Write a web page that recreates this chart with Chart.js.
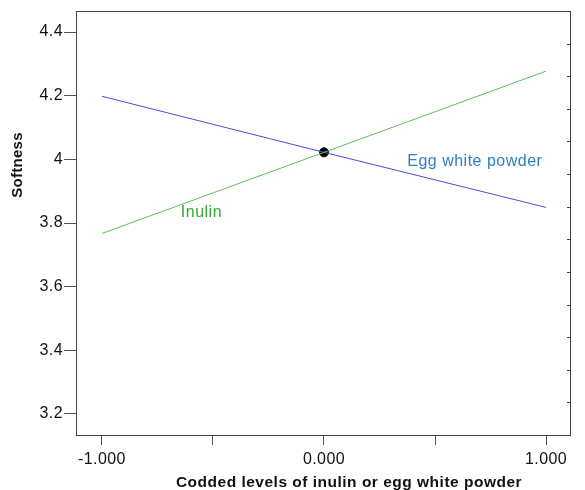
<!DOCTYPE html>
<html>
<head>
<meta charset="utf-8">
<script src="https://cdn.jsdelivr.net/npm/chart.js@4/dist/chart.umd.min.js"></script>
<style>
html,body{margin:0;padding:0;background:#fff;}
#wrap{width:585px;height:490px;position:relative;}
</style>
</head>
<body>
<div id="wrap"><canvas id="c" width="585" height="490"></canvas></div>
<script>
// ---- data ----
const xLevels = [-1, 0, 1];
const inulin = [3.767, 4.022, 4.277];
const eggWhite = [4.198, 4.022, 3.849];
const centerPoint = [{x: 0, y: 4.022}];
const xTickValues = [-1, -0.5, 0, 0.5, 1];
const xTickLabels = ['-1.000', '', '0.000', '', '1.000'];
const yTickValues = [3.2, 3.4, 3.6, 3.8, 4.0, 4.2, 4.4];
const yTickLabels = ['3.2', '3.4', '3.6', '3.8', '4', '4.2', '4.4'];
const seriesNames = ['Inulin', 'Egg white powder'];

const FONT = '"Liberation Sans", Arial, sans-serif';

const spacing = {
  id: 'spacing',
  beforeDraw(chart) { chart.ctx.letterSpacing = '0.4px'; }
};

const decor = {
  id: 'decor',
  afterDraw(chart) {
    const ctx = chart.ctx;
    const a = chart.chartArea;
    const xs = chart.scales.x, ys = chart.scales.y;
    ctx.save();
    ctx.letterSpacing = '0.5px';
    // frame
    ctx.strokeStyle = '#444';
    ctx.lineWidth = 1;
    ctx.strokeRect(Math.round(a.left) + 0.5, Math.round(a.top) + 0.5,
                   Math.round(a.right - a.left), Math.round(a.bottom - a.top));
    // inward ticks on right border
    const n = 13;
    for (let i = 1; i < n; i++) {
      const y = Math.round(a.top + (a.bottom - a.top) * i / n) + 0.5;
      ctx.beginPath();
      ctx.moveTo(a.right, y);
      ctx.lineTo(a.right - 3, y);
      ctx.stroke();
    }
    // series labels
    ctx.font = '16px ' + FONT;
    ctx.textBaseline = 'middle';
    ctx.textAlign = 'left';
    ctx.fillStyle = '#2f7fc1';
    ctx.fillText(seriesNames[1], xs.getPixelForValue(0.375), ys.getPixelForValue(3.994));
    ctx.fillStyle = '#33aa33';
    ctx.fillText(seriesNames[0], xs.getPixelForValue(-0.645), ys.getPixelForValue(3.833));
    // axis titles
    ctx.fillStyle = '#111';
    ctx.font = 'bold 15.5px ' + FONT;
    ctx.textAlign = 'center';
    ctx.fillText('Codded levels of inulin or egg white powder', 349, 483);
    ctx.save();
    ctx.translate(18, 165);
    ctx.rotate(-Math.PI / 2);
    ctx.font = 'bold 15px ' + FONT;
    ctx.letterSpacing = '0.3px';
    ctx.fillText('Softness', 0, 0);
    ctx.restore();
    ctx.restore();
  }
};

new Chart(document.getElementById('c'), {
  type: 'line',
  data: {
    datasets: [
      {
        label: seriesNames[0],
        data: xLevels.map((x, i) => ({x, y: inulin[i]})),
        borderColor: '#5cbf5c',
        borderWidth: 1,
        pointRadius: 0,
        tension: 0
      },
      {
        label: seriesNames[1],
        data: xLevels.map((x, i) => ({x, y: eggWhite[i]})),
        borderColor: '#4b4bdc',
        borderWidth: 1,
        pointRadius: 0,
        tension: 0
      },
      {
        label: 'center',
        data: centerPoint,
        showLine: false,
        pointRadius: 4.5,
        pointBackgroundColor: '#000',
        pointBorderColor: '#000'
      }
    ]
  },
  options: {
    responsive: false,
    animation: false,
    events: [],
    layout: {padding: {top: 11, right: 15, left: 0, bottom: 0}},
    plugins: {legend: {display: false}, tooltip: {enabled: false}, title: {display: false}},
    scales: {
      x: {
        type: 'linear',
        min: -1.117,
        max: 1.108,
        afterBuildTicks(s) { s.ticks = xTickValues.map(v => ({value: v})); },
        afterFit(s) { s.height = 55; },
        ticks: {
          callback: (v, i) => xTickLabels[i],
          font: {family: FONT, size: 16},
          color: '#111',
          padding: 5,
          maxRotation: 0,
          autoSkip: false
        },
        grid: {drawOnChartArea: false, drawTicks: true, tickLength: 10, color: '#555'},
        border: {display: true, color: '#444'}
      },
      y: {
        type: 'linear',
        min: 3.134,
        max: 4.466,
        afterBuildTicks(s) { s.ticks = yTickValues.map(v => ({value: v})); },
        afterFit(s) { s.width = 76; },
        ticks: {
          callback: (v, i) => yTickLabels[i],
          font: {family: FONT, size: 16},
          color: '#111',
          padding: 1,
          autoSkip: false
        },
        grid: {drawOnChartArea: false, drawTicks: true, tickLength: 12, color: '#555'},
        border: {display: true, color: '#444'}
      }
    }
  },
  plugins: [spacing, decor]
});
</script>
</body>
</html>
